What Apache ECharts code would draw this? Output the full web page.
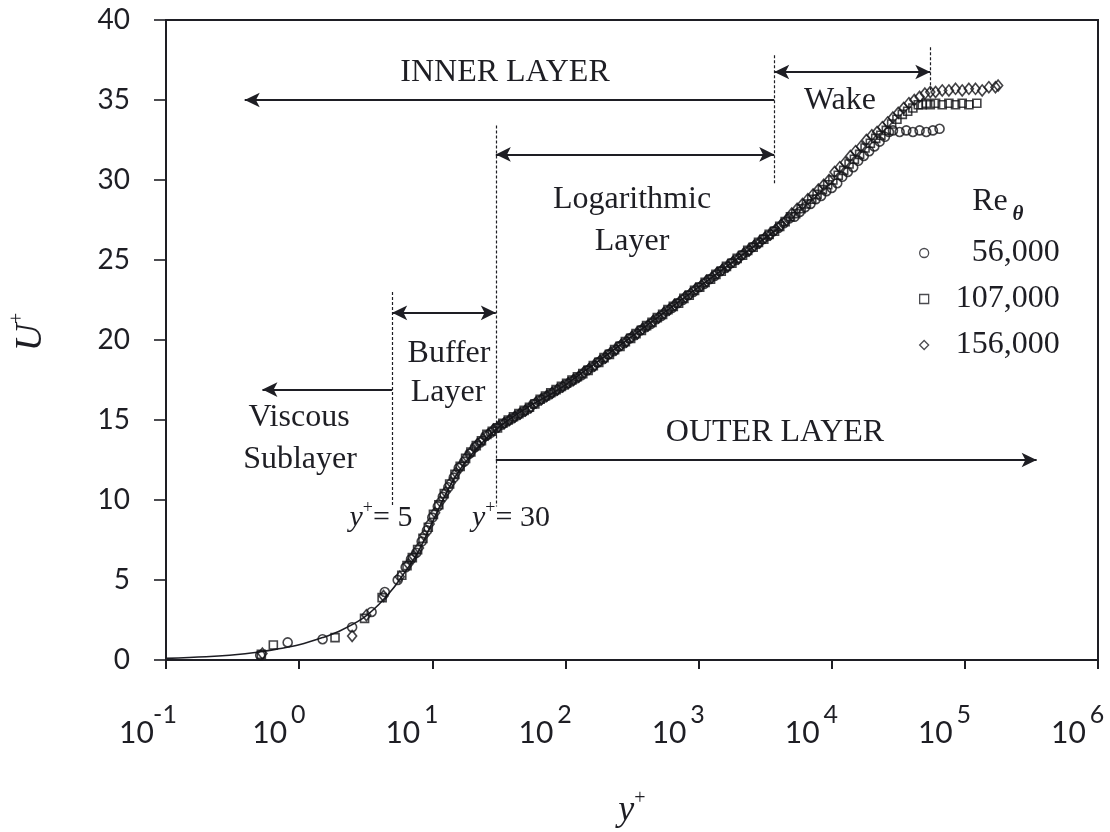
<!DOCTYPE html>
<html>
<head>
<meta charset="utf-8">
<script src="https://cdn.jsdelivr.net/npm/echarts@6/dist/echarts.min.js"></script>
<style>
  html, body { margin: 0; padding: 0; background: #fff; }
  #chart { width: 1110px; height: 832px; }
</style>
</head>
<body>
<div id="chart"></div>
<script>
// Mean velocity profiles in wall units (U+ against y+) for three Re_theta values,
// with the law-of-the-wall curve and the classic layer divisions.

const seriesNames = ['56,000', '107,000', '156,000'];

// [y+, U+] measured points, Re_theta = 56,000
const re56k = [
  [0.51, 0.3], [0.82, 1.1], [1.5, 1.3], [2.5, 2.05], [3.5, 3.0], [4.4, 4.25], [5.5, 5.0],
  [6.31, 5.8], [6.92, 6.3], [7.59, 6.7], [8.32, 7.4], [9.12, 8.1], [10.0, 8.9], [11.0, 9.6],
  [12.0, 10.2], [13.2, 10.8], [14.5, 11.4], [15.8, 12.0], [17.4, 12.4], [19.1, 12.9], [20.9, 13.3],
  [22.9, 13.6], [25.1, 14.0], [27.5, 14.2], [30.2, 14.5], [33.1, 14.7], [36.3, 14.9], [39.8, 15.1],
  [43.7, 15.3], [47.9, 15.5], [52.5, 15.7], [57.5, 16.0], [63.1, 16.2], [69.2, 16.4], [75.9, 16.6],
  [83.2, 16.8], [91.2, 17.0], [100, 17.2], [110, 17.4], [120, 17.6], [132, 17.8], [145, 18.1],
  [158, 18.3], [174, 18.6], [191, 18.8], [209, 19.1], [229, 19.3], [251, 19.6], [275, 19.8],
  [302, 20.1], [331, 20.3], [363, 20.6], [398, 20.8], [437, 21.0], [479, 21.3], [525, 21.5],
  [575, 21.8], [631, 22.0], [692, 22.3], [759, 22.5], [832, 22.8], [912, 23.0], [1000, 23.3],
  [1100, 23.5], [1200, 23.8], [1320, 24.0], [1450, 24.3], [1580, 24.5], [1740, 24.8], [1910, 25.0],
  [2090, 25.3], [2290, 25.5], [2510, 25.8], [2750, 26.0], [3020, 26.3], [3310, 26.5], [3630, 26.8],
  [3980, 27.0], [4370, 27.3], [4790, 27.6], [5250, 27.7], [5750, 28.0], [6310, 28.3], [6920, 28.5],
  [7590, 28.8], [8320, 29.0], [9120, 29.3], [10000, 29.5], [11000, 29.8], [12000, 30.2], [13200, 30.5],
  [14500, 30.8], [15800, 31.2], [17400, 31.5], [19100, 31.8], [20900, 32.1], [22900, 32.4],
  [25100, 32.7], [26900, 33.0], [28840, 33.1], [32360, 33.0], [36310, 33.1], [40740, 33.0],
  [45710, 33.1], [51290, 33.0], [57540, 33.1], [64570, 33.2]
];

// [y+, U+] measured points, Re_theta = 107,000
const re107k = [
  [0.52, 0.35], [0.64, 0.94], [1.86, 1.4], [3.1, 2.6], [4.2, 3.9], [5.9, 5.3],
  [6.46, 5.9], [7.08, 6.4], [7.76, 6.9], [8.51, 7.6], [9.33, 8.3], [10.2, 9.1], [11.2, 9.7],
  [12.3, 10.4], [13.5, 11.0], [14.8, 11.6], [16.2, 12.1], [17.8, 12.6], [19.5, 13.0], [21.4, 13.4],
  [23.4, 13.7], [25.7, 14.1], [28.2, 14.3], [30.9, 14.5], [33.9, 14.8], [37.2, 15.0], [40.7, 15.2],
  [44.7, 15.4], [49.0, 15.6], [53.7, 15.8], [58.9, 16.0], [64.6, 16.3], [70.8, 16.5], [77.6, 16.7],
  [85.1, 16.9], [93.3, 17.1], [102, 17.3], [112, 17.5], [123, 17.7], [135, 17.9], [148, 18.1],
  [162, 18.4], [178, 18.6], [195, 18.9], [214, 19.1], [234, 19.4], [257, 19.6], [282, 19.9],
  [309, 20.1], [339, 20.4], [372, 20.6], [407, 20.9], [447, 21.1], [490, 21.4], [537, 21.6],
  [589, 21.9], [646, 22.1], [708, 22.3], [776, 22.6], [851, 22.8], [933, 23.1], [1020, 23.3],
  [1120, 23.6], [1230, 23.8], [1350, 24.1], [1480, 24.3], [1620, 24.6], [1780, 24.8], [1950, 25.1],
  [2140, 25.3], [2340, 25.6], [2570, 25.8], [2820, 26.1], [3090, 26.3], [3390, 26.6], [3720, 26.8],
  [4070, 27.1], [4470, 27.4], [4900, 27.7], [5370, 27.9], [5890, 28.2], [6460, 28.5], [7080, 28.8],
  [7760, 29.1], [8510, 29.4], [9330, 29.7], [10200, 30.0], [11200, 30.3], [12300, 30.6], [13500, 31.0],
  [14800, 31.3], [16200, 31.6], [17800, 32.0], [19500, 32.3], [21400, 32.6], [23400, 32.8],
  [25700, 33.1], [28200, 33.5], [30900, 33.8], [33900, 34.1], [37200, 34.3], [40700, 34.5],
  [44700, 34.7], [47860, 34.7], [51290, 34.8], [55000, 34.7], [60260, 34.8], [67610, 34.7],
  [75860, 34.8], [85110, 34.7], [95500, 34.8], [107200, 34.7], [123000, 34.8]
];

// [y+, U+] measured points, Re_theta = 156,000
const re156k = [
  [0.53, 0.4], [2.5, 1.5], [3.2, 2.8], [4.3, 4.0], [5.7, 5.2],
  [6.61, 6.0], [7.24, 6.5], [7.94, 7.0], [8.71, 7.8], [9.55, 8.5], [10.5, 9.2], [11.5, 9.9],
  [12.6, 10.5], [13.8, 11.1], [15.1, 11.7], [16.6, 12.2], [18.2, 12.7], [20.0, 13.1], [21.9, 13.5],
  [24.0, 13.8], [26.3, 14.1], [28.8, 14.4], [31.6, 14.6], [34.7, 14.8], [38.0, 15.0], [41.7, 15.2],
  [45.7, 15.4], [50.1, 15.6], [55.0, 15.8], [60.3, 16.1], [66.1, 16.3], [72.4, 16.5], [79.4, 16.7],
  [87.1, 16.9], [95.5, 17.1], [105, 17.3], [115, 17.5], [126, 17.7], [138, 18.0], [151, 18.2],
  [166, 18.4], [182, 18.7], [200, 18.9], [219, 19.2], [240, 19.4], [263, 19.7], [288, 19.9],
  [316, 20.2], [347, 20.4], [380, 20.7], [417, 20.9], [457, 21.2], [501, 21.4], [550, 21.7],
  [603, 21.9], [661, 22.2], [724, 22.4], [794, 22.7], [871, 22.9], [955, 23.2], [1050, 23.4],
  [1150, 23.7], [1260, 23.9], [1380, 24.2], [1510, 24.4], [1660, 24.6], [1820, 24.9], [2000, 25.1],
  [2190, 25.4], [2400, 25.6], [2630, 25.9], [2880, 26.1], [3160, 26.4], [3470, 26.6], [3800, 26.9],
  [4170, 27.2], [4570, 27.5], [5010, 27.9], [5500, 28.2], [6030, 28.5], [6610, 28.8], [7240, 29.1],
  [7940, 29.4], [8710, 29.7], [9550, 30.0], [10500, 30.5], [11500, 30.8], [12600, 31.1], [13800, 31.5],
  [15100, 31.8], [16600, 32.1], [18200, 32.5], [20000, 32.8], [21900, 33.0], [24000, 33.3],
  [26300, 33.6], [28800, 33.9], [31600, 34.2], [34700, 34.5], [38000, 34.8], [41700, 35.0],
  [45700, 35.2], [50100, 35.4], [55000, 35.5], [60260, 35.5], [67610, 35.6], [75860, 35.6],
  [85110, 35.7], [95500, 35.6], [107200, 35.7], [120200, 35.7], [134900, 35.6], [151400, 35.8],
  [169800, 35.8], [177800, 35.9]
];

// law-of-the-wall reference curve [y+, U+]
const lawOfWall = [
  [0.1, 0.1], [0.2, 0.2], [0.3, 0.3], [0.5, 0.5], [0.7, 0.7], [1, 0.95], [1.5, 1.4], [2, 1.8],
  [3, 2.6], [4, 3.5], [5, 4.4], [6, 5.3], [7, 6.1], [8, 6.9], [10, 8.6], [12, 10.0], [15, 11.5],
  [20, 12.9], [30, 14.4], [50, 15.7], [100, 17.2], [1000, 23.3], [4000, 27.0]
];

// decade exponents shown on the y+ axis
const xTickExponents = ['-1', '0', '1', '2', '3', '4', '5', '6'];

// layer boundaries in y+
const bViscous = 5;
const bLog = 30;
const bWakeStart = 3700;
const bWakeEnd = 55000;

const INK = '#1e1e24';
const SERIF = '"Liberation Serif", "Times New Roman", serif';
const SANS = 'Lato, "Open Sans", sans-serif';

const chart = echarts.init(document.getElementById('chart'), null, { renderer: 'canvas' });

const openMarker = { color: 'rgba(255,255,255,0)', borderColor: '#141418', borderWidth: 1.6 };

function dashed(x, y1, y2) {
  return [
    { coord: [x, y1], symbol: 'none', lineStyle: { type: [3, 2], width: 1.2, color: INK } },
    { coord: [x, y2], symbol: 'none' }
  ];
}
function arrow(x1, x2, y, headStart, headEnd) {
  return [
    { coord: [x1, y], symbol: headStart ? 'arrow' : 'none', symbolSize: [11, 15],
      lineStyle: { type: 'solid', width: 2, color: INK } },
    { coord: [x2, y], symbol: headEnd ? 'arrow' : 'none', symbolSize: [11, 15] }
  ];
}

function serifText(text, x, y) {
  return {
    type: 'text', x: x, y: y, z: 20, silent: true,
    style: { text: text, fontFamily: SERIF, fontSize: 32, fill: INK, align: 'center', verticalAlign: 'middle' }
  };
}
function yPlusText(value, x, y) {
  return {
    type: 'text', x: x, y: y, z: 20, silent: true,
    style: {
      text: '{y|y}{p|+}{t|= ' + value + '}', align: 'center', verticalAlign: 'middle', fill: INK,
      rich: {
        y: { fontFamily: SERIF, fontStyle: 'italic', fontSize: 30, fill: INK },
        p: { fontFamily: SERIF, fontSize: 18, fill: INK, padding: [0, 0, 20, 0] },
        t: { fontFamily: SERIF, fontSize: 30, fill: INK }
      }
    }
  };
}

const option = {
  animation: false,
  backgroundColor: '#ffffff',
  grid: {
    left: 166, right: 12, top: 20, bottom: 172, outerBoundsMode: 'none',
    show: true, borderColor: INK, borderWidth: 2
  },
  xAxis: {
    type: 'log', logBase: 10, min: 0.1, max: 1e6, splitNumber: 7,
    axisLine: { lineStyle: { color: INK, width: 2 } },
    axisTick: { show: true, length: 9, lineStyle: { color: INK, width: 2 } },
    minorTick: { show: false },
    splitLine: { show: false },
    axisLabel: {
      margin: 42, hideOverlap: false,
      formatter: function (value, index) {
        return '{b|10}{e|' + xTickExponents[index] + '}{s| }';
      },
      rich: {
        b: { fontFamily: SANS, fontSize: 30, color: INK, width: 31 },
        e: { fontFamily: SANS, fontSize: 25, color: INK, width: 26, padding: [0, 0, 38, 0] },
        s: { width: 33, fontSize: 10 }
      }
    },
    name: '{y|y}{p|+}', nameLocation: 'middle', nameGap: 129,
    nameTextStyle: {
      rich: {
        y: { fontFamily: SERIF, fontStyle: 'italic', fontSize: 36, color: INK },
        p: { fontFamily: SERIF, fontSize: 20, color: INK, padding: [0, 0, 24, 0] }
      }
    }
  },
  yAxis: {
    type: 'value', min: 0, max: 40, interval: 5,
    axisLine: { show: true, lineStyle: { color: INK, width: 2 } },
    axisTick: { show: true, length: 12, lineStyle: { color: INK, width: 1.6 } },
    splitLine: { show: false },
    axisLabel: { margin: 36, fontFamily: SANS, fontSize: 28, color: INK },
    name: '{g| }{u|U}{p|+}', nameLocation: 'middle', nameGap: 112, nameRotate: 90,
    nameTextStyle: {
      rich: {
        g: { width: 16, fontSize: 10 },
        u: { fontFamily: SERIF, fontStyle: 'italic', fontSize: 38, color: INK },
        p: { fontFamily: SERIF, fontSize: 20, color: INK, padding: [0, 0, 26, 0] }
      }
    }
  },
  legend: {
    data: seriesNames,
    orient: 'vertical', left: 914, top: 232,
    itemWidth: 9, itemHeight: 9, itemGap: 14,
    selectedMode: false,
    itemStyle: { color: 'rgba(255,255,255,0)', borderColor: INK, borderWidth: 1.3 },
    formatter: function (name) { return '{v|' + name + '}'; },
    textStyle: {
      rich: { v: { width: 126, align: 'right', fontFamily: SERIF, fontSize: 32, lineHeight: 34, color: INK } }
    }
  },
  series: [
    {
      name: 'law of the wall', type: 'line', data: lawOfWall, smooth: 0.35,
      symbol: 'none', lineStyle: { color: INK, width: 1.6 }, z: 1, silent: true,
      markLine: {
        silent: true, animation: false, symbol: ['none', 'none'], label: { show: false },
        data: [
          dashed(bViscous, 23.0, 9.6),
          dashed(bLog, 33.4, 9.6),
          dashed(bWakeStart, 37.8, 29.8),
          dashed(bWakeEnd, 38.3, 35.5),
          arrow(0.39, bWakeStart, 35.0, true, false),
          arrow(bWakeStart, bWakeEnd, 36.75, true, true),
          arrow(bLog, bWakeStart, 31.6, true, true),
          arrow(bViscous, bLog, 21.7, true, true),
          arrow(0.53, bViscous, 16.9, true, false),
          arrow(bLog, 346000, 12.5, false, true)
        ]
      }
    },
    { name: seriesNames[0], type: 'scatter', data: re56k, symbol: 'circle', symbolSize: 9, itemStyle: openMarker, z: 3 },
    { name: seriesNames[1], type: 'scatter', data: re107k, symbol: 'rect', symbolSize: 8, itemStyle: openMarker, z: 3 },
    { name: seriesNames[2], type: 'scatter', data: re156k, symbol: 'diamond', symbolSize: [9, 11], itemStyle: openMarker, z: 3 }
  ],
  graphic: [
    serifText('INNER LAYER', 505, 73),
    serifText('Wake', 840, 101),
    serifText('Logarithmic', 632, 200),
    serifText('Layer', 632, 242),
    serifText('Buffer', 449, 354),
    serifText('Layer', 448, 393),
    serifText('Viscous', 299, 418),
    serifText('Sublayer', 300, 460),
    serifText('OUTER LAYER', 775, 433),
    yPlusText('5', 381, 518),
    yPlusText('30', 511, 518),
    {
      type: 'text', x: 990, y: 202, z: 20, silent: true,
      style: { text: 'Re', fontFamily: SERIF, fontSize: 32, fill: INK, align: 'center', verticalAlign: 'middle' }
    },
    {
      type: 'text', x: 1018, y: 215, z: 20, silent: true,
      style: { text: 'θ', fontFamily: SERIF, fontStyle: 'italic', fontWeight: 'bold', fontSize: 21, fill: INK, align: 'center', verticalAlign: 'middle' }
    }
  ]
};

chart.setOption(option);
</script>
</body>
</html>
